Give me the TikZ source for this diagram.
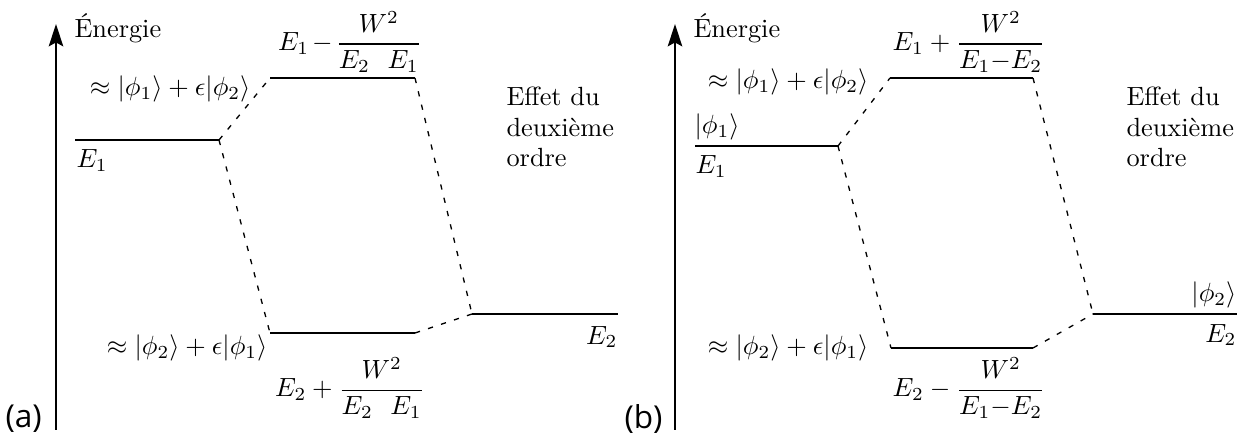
\documentclass[tikz,border=0pt]{standalone}
\usepackage{amsmath}
\usepackage{fontspec}
\newfontfamily\panelfont{Open Sans}
\usetikzlibrary{arrows.meta}
\begin{document}
\begin{tikzpicture}[x=0.38pt,y=-0.38pt,
  level/.style={line width=0.6pt},
  link/.style={line width=0.5pt,dash pattern=on 2pt off 3.2pt},
  axis/.style={line width=0.7pt,-{Stealth[length=8.5pt,width=5.5pt,inset=1.5pt]}},
  txt/.style={inner sep=0pt},
  word/.style={inner sep=0pt,font=\fontsize{10}{11.5}\selectfont},
  panel/.style={inner sep=0pt,font=\panelfont\large}]
\useasboundingbox (0,0) rectangle (1246,436);

% ---------------- panel (a) ----------------
\coordinate (aA0) at (56,430);
\coordinate (aA1) at (56,24);
\draw[axis] (aA0) -- (aA1);
\node[word,anchor=base west] (aEn) at (74,38) {Énergie};
\node[panel,anchor=west] (aLab) at (5,419) {(a)};

\coordinate (aE1l) at (75,140);  \coordinate (aE1r) at (219,140);
\coordinate (aUl) at (270,78);   \coordinate (aUr) at (415,78);
\coordinate (aLl) at (270,333);  \coordinate (aLr) at (415,333);
\coordinate (aE2l) at (472,314); \coordinate (aE2r) at (618,314);
\draw[level] (aE1l) -- (aE1r);
\draw[level] (aUl) -- (aUr);
\draw[level] (aLl) -- (aLr);
\draw[level] (aE2l) -- (aE2r);
\draw[link] (aE1r) -- (aUl);
\draw[link] (aE1r) -- (aLl);
\draw[link] (aUr) -- (aE2l);
\draw[link] (aLr) -- (aE2l);

\node[txt,anchor=base west] (aE1t) at (76,168) {$E_1$};
\node[txt] (aUt) at (350,42) {$\displaystyle E_1\mkern2mu{-}\mkern2mu\frac{W^2}{E_2\mkern12mu E_1}$};
\node[txt,anchor=east] (aUs) at (251,89) {$\approx|\phi_1\rangle+\epsilon|\phi_2\rangle$};
\node[txt,anchor=east] (aLs) at (268,348) {$\approx|\phi_2\rangle+\epsilon|\phi_1\rangle$};
\node[txt] (aLt) at (350,388) {$\displaystyle E_2 + \frac{W^2}{E_2\mkern12mu E_1}$};
\node[txt,anchor=east] (aE2t) at (618,337) {$E_2$};
\node[word,anchor=west,align=left] (aEff) at (506,127) {Effet du\\deuxième\\ordre};

% ---------------- panel (b) ----------------
\coordinate (bA0) at (675,430);
\coordinate (bA1) at (675,24);
\draw[axis] (bA0) -- (bA1);
\node[word,anchor=base west] (bEn) at (693,38) {Énergie};
\node[panel,anchor=west] (bLab) at (624,419) {(b)};

\coordinate (bE1l) at (695,146);  \coordinate (bE1r) at (838,146);
\coordinate (bUl) at (890,78);    \coordinate (bUr) at (1033,78);
\coordinate (bLl) at (891,348);   \coordinate (bLr) at (1033,348);
\coordinate (bE2l) at (1093,314); \coordinate (bE2r) at (1237,314);
\draw[level] (bE1l) -- (bE1r);
\draw[level] (bUl) -- (bUr);
\draw[level] (bLl) -- (bLr);
\draw[level] (bE2l) -- (bE2r);
\draw[link] (bE1r) -- (bUl);
\draw[link] (bE1r) -- (bLl);
\draw[link] (bUr) -- (bE2l);
\draw[link] (bLr) -- (bE2l);

\node[txt,anchor=west] (bP1) at (694,127) {$|\phi_1\rangle$};
\node[txt,anchor=base west] (bE1t) at (695,174) {$E_1$};
\node[txt] (bUt) at (969,42) {$\displaystyle E_1 + \frac{W^2}{E_1{-}E_2}$};
\node[txt,anchor=east] (bUs) at (869,82) {$\approx|\phi_1\rangle+\epsilon|\phi_2\rangle$};
\node[txt,anchor=east] (bLs) at (869,348) {$\approx|\phi_2\rangle+\epsilon|\phi_1\rangle$};
\node[txt] (bLt) at (969,388) {$\displaystyle E_2 - \frac{W^2}{E_1{-}E_2}$};
\node[txt,anchor=east] (bP2) at (1237,295) {$|\phi_2\rangle$};
\node[txt,anchor=east] (bE2t) at (1237,335) {$E_2$};
\node[word,anchor=west,align=left] (bEff) at (1126,127) {Effet du\\deuxième\\ordre};
\end{tikzpicture}
\end{document}
